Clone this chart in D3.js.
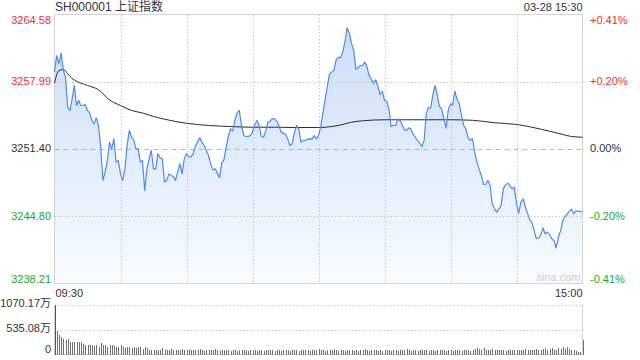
<!DOCTYPE html>
<html>
<head>
<meta charset="utf-8">
<script src="https://cdn.jsdelivr.net/npm/d3@7/dist/d3.min.js"></script>
<style>
  html, body { margin: 0; padding: 0; background: #fff; }
  svg { display: block; font-family: Arial, "Liberation Sans", "Noto Sans CJK SC", sans-serif; }
</style>
</head>
<body>
<svg id="chart" width="640" height="360"></svg>
<script>
// Chart values
const title = 'SH000001 上证指数';
const stamp = '03-28 15:30';
const prevClose = 3251.40;
const priceTicks = [3238.21, 3244.80, 3251.40, 3257.99, 3264.58];
const timeLabels = ['09:30', '15:00'];
const volTicks = [0, 535.08, 1070.17];
const volTickLabels = ['0', '535.08万', '1070.17万'];

// one price per minute, 09:30-11:30 then 13:00-15:00 (241 points)
const prices = [
  3258.93, 3260.56, 3259.74, 3260.79, 3259.09, 3258.44, 3255.50, 3255.17, 3256.31, 3257.62,
  3255.66, 3256.15, 3255.66, 3255.66, 3255.76, 3255.17, 3254.91, 3254.19, 3253.86, 3254.45,
  3253.70, 3251.58, 3248.31, 3249.13, 3250.27, 3252.07, 3251.41, 3252.39, 3250.11, 3250.27,
  3248.96, 3248.31, 3249.45, 3251.74, 3253.21, 3252.56, 3252.29, 3251.41, 3251.41, 3250.11,
  3250.27, 3247.33, 3249.45, 3250.43, 3251.25, 3249.45, 3249.45, 3250.92, 3250.53, 3250.43,
  3248.15, 3248.31, 3248.96, 3248.80, 3248.70, 3248.31, 3249.13, 3249.94, 3248.96, 3250.43,
  3250.92, 3250.66, 3250.60, 3250.92, 3251.64, 3252.07, 3252.49, 3252.07, 3251.74, 3251.31,
  3250.76, 3249.94, 3249.35, 3249.45, 3249.03, 3248.57, 3250.01, 3250.33, 3251.51, 3252.62,
  3253.37, 3253.14, 3254.19, 3254.91, 3255.17, 3253.70, 3252.72, 3252.62, 3252.62, 3252.72,
  3253.05, 3253.80, 3254.19, 3253.70, 3252.62, 3252.56, 3253.14, 3254.03, 3254.12, 3254.35,
  3254.35, 3254.12, 3253.70, 3253.05, 3252.95, 3252.82, 3252.39, 3251.74, 3251.90, 3252.95,
  3253.70, 3253.37, 3252.07, 3252.23, 3252.23, 3252.36, 3252.39, 3252.36, 3252.72, 3252.39,
  3252.72, 3253.54, 3254.91, 3256.21, 3257.52, 3258.76, 3258.93, 3259.09, 3260.14, 3260.40,
  3260.33, 3260.89, 3261.87, 3263.27, 3262.75, 3261.77, 3261.05, 3259.25, 3259.35, 3259.58,
  3259.58, 3259.91, 3259.48, 3258.60, 3258.24, 3257.85, 3258.18, 3257.52, 3256.74, 3257.06,
  3256.15, 3256.08, 3255.33, 3253.60, 3253.70, 3253.70, 3254.35, 3254.19, 3253.80, 3253.27,
  3253.21, 3253.47, 3253.37, 3252.82, 3252.56, 3252.23, 3251.97, 3251.64, 3252.23, 3254.91,
  3255.43, 3255.43, 3256.74, 3257.62, 3256.64, 3255.56, 3255.33, 3254.35, 3253.47, 3255.23,
  3255.82, 3255.72, 3257.06, 3256.22, 3255.82, 3254.68, 3253.70, 3253.37, 3252.49, 3252.23,
  3252.39, 3251.09, 3250.11, 3249.45, 3248.80, 3247.92, 3247.92, 3248.31, 3247.82, 3246.02,
  3245.53, 3245.21, 3245.50, 3245.86, 3247.49, 3247.88, 3248.05, 3247.82, 3247.49, 3247.66,
  3246.02, 3245.11, 3246.19, 3246.51, 3245.76, 3245.11, 3244.45, 3244.22, 3243.41, 3242.59,
  3242.69, 3242.92, 3243.67, 3243.08, 3243.25, 3243.02, 3242.59, 3242.43, 3241.71, 3242.69,
  3243.34, 3244.32, 3244.78, 3244.98, 3245.30, 3245.50, 3245.04, 3245.30, 3245.30, 3245.27,
  3245.21
];

// average price line, sampled at these minute indexes
const avgMinutes = [0, 2, 4, 6, 8, 10, 15, 20, 25, 30, 35, 40, 45, 50, 55, 60, 70, 80, 90, 100,
  110, 120, 125, 130, 135, 140, 150, 160, 170, 180, 190, 200, 210, 217, 225, 231, 235, 240];
const avgPrices = [3257.85, 3259.09, 3259.19, 3258.77, 3258.31, 3258.04, 3257.62, 3257.20, 3256.20, 3255.66,
  3255.17, 3254.93, 3254.58, 3254.32, 3254.09, 3253.92, 3253.70, 3253.60, 3253.53, 3253.53,
  3253.50, 3253.50, 3253.57, 3253.75, 3254.02, 3254.16, 3254.26, 3254.26, 3254.26, 3254.26,
  3254.21, 3253.97, 3253.80, 3253.53, 3253.14, 3252.82, 3252.62, 3252.55];

// volume per minute, in 万
const volumes = [
  1070, 500, 407, 371, 335, 300, 335, 278, 264, 264,
  278, 278, 264, 228, 214, 214, 193, 193, 178, 214,
  171, 243, 214, 193, 157, 214, 193, 178, 157, 171,
  214, 157, 143, 171, 157, 136, 157, 136, 171, 157,
  121, 171, 136, 107, 107, 100, 100, 100, 93, 136,
  93, 100, 100, 121, 86, 107, 100, 93, 121, 100,
  86, 107, 100, 93, 86, 107, 114, 93, 79, 100,
  93, 86, 100, 121, 86, 79, 93, 100, 86, 107,
  79, 86, 93, 79, 86, 93, 107, 86, 79, 93,
  86, 100, 79, 86, 93, 79, 86, 100, 107, 86,
  79, 93, 86, 79, 100, 86, 93, 79, 86, 93,
  100, 79, 86, 93, 107, 86, 79, 86, 93, 100,
  121, 86, 100, 79, 93, 107, 86, 121, 100, 79,
  93, 86, 79, 100, 86, 93, 79, 86, 79, 93,
  107, 121, 86, 79, 86, 100, 86, 79, 86, 79,
  93, 100, 86, 79, 93, 100, 79, 86, 93, 100,
  121, 86, 79, 86, 93, 79, 86, 100, 86, 93,
  79, 86, 93, 79, 86, 100, 107, 86, 79, 93,
  86, 79, 93, 100, 86, 79, 93, 100, 86, 79,
  107, 121, 143, 114, 100, 136, 107, 93, 86, 121,
  100, 86, 93, 107, 86, 79, 93, 100, 86, 93,
  100, 86, 93, 107, 114, 86, 100, 93, 107, 121,
  100, 93, 121, 143, 100, 114, 136, 93, 107, 143,
  121, 150, 114, 157, 128, 93, 86, 71, 64, 57,
  315
];

const svg = d3.select('#chart');
const plot = { left: 54.5, right: 582.5, top: 14.5, bottom: 283.5 };
const vol = { top: 304.5, bottom: 354.5 };
const red = '#f23030', green = '#22a822', dark = '#333';

const x = d3.scaleLinear().domain([0, 240]).range([plot.left, plot.right]);
const y = d3.scaleLinear().domain([priceTicks[0], priceTicks[4]]).range([plot.bottom, plot.top]);
const yv = d3.scaleLinear().domain([0, volTicks[2]]).range([vol.bottom, vol.top]);

const defs = svg.append('defs');
const grad = defs.append('linearGradient').attr('id', 'fill')
  .attr('gradientUnits', 'userSpaceOnUse')
  .attr('x1', 0).attr('x2', 0).attr('y1', plot.top).attr('y2', plot.bottom);
grad.append('stop').attr('offset', 0).attr('stop-color', '#c9dcf7');
grad.append('stop').attr('offset', 1).attr('stop-color', '#f9fbff');

// title row
svg.append('text').attr('x', 55).attr('y', 11).attr('font-size', 12).attr('fill', dark).text(title);
svg.append('text').attr('x', plot.right).attr('y', 11).attr('font-size', 11)
  .attr('text-anchor', 'end').attr('fill', dark).text(stamp);

// area + grid
svg.append('path')
  .datum(prices)
  .attr('fill', 'url(#fill)')
  .attr('d', d3.area().x((d, i) => x(i)).y0(plot.bottom).y1(d => y(d)));

const grid = svg.append('g').attr('stroke', '#c8c8c8').attr('stroke-dasharray', '1.5,2');
d3.range(30, 240, 30).forEach(m => {
  grid.append('line').attr('x1', Math.round(x(m)) + 0.5).attr('x2', Math.round(x(m)) + 0.5)
    .attr('y1', plot.top).attr('y2', plot.bottom);
});
[priceTicks[1], priceTicks[3]].forEach(v => {
  grid.append('line').attr('x1', plot.left).attr('x2', plot.right)
    .attr('y1', Math.round(y(v)) + 0.5).attr('y2', Math.round(y(v)) + 0.5);
});
svg.append('line').attr('x1', plot.left).attr('x2', plot.right)
  .attr('y1', Math.round(y(prevClose)) + 0.5).attr('y2', Math.round(y(prevClose)) + 0.5)
  .attr('stroke', '#f0a577').attr('stroke-dasharray', '5,4');

svg.append('rect').attr('x', plot.left).attr('y', plot.top)
  .attr('width', plot.right - plot.left).attr('height', plot.bottom - plot.top)
  .attr('fill', 'none').attr('stroke', '#d4d4d4');

svg.append('text').attr('x', plot.right - 2).attr('y', plot.bottom - 3)
  .attr('text-anchor', 'end').attr('font-size', 11).attr('fill', '#d0d0d0').text('sina.com');

// average line and price line
svg.append('path')
  .attr('fill', 'none').attr('stroke', '#2b2b2b').attr('stroke-width', 1)
  .attr('d', d3.line().curve(d3.curveMonotoneX)
    .x((d, i) => x(avgMinutes[i])).y(d => y(d))(avgPrices));

svg.append('path')
  .datum(prices)
  .attr('fill', 'none').attr('stroke', '#4d8af0').attr('stroke-width', 1.2)
  .attr('stroke-linejoin', 'round')
  .attr('d', d3.line().x((d, i) => x(i)).y(d => y(d)));

// price axis labels
const colorFor = v => Math.abs(v - prevClose) < 0.005 ? dark : (v > prevClose ? red : green);
const baseFor = (i) => i === 4 ? 'hanging' : (i === 0 ? 'auto' : 'middle');
priceTicks.forEach((v, i) => {
  const ty = i === 4 ? plot.top + 1 : (i === 0 ? plot.bottom - 1 : y(v) + 0.5);
  svg.append('text').attr('x', 51).attr('y', ty).attr('text-anchor', 'end')
    .attr('dominant-baseline', baseFor(i)).attr('font-size', 11)
    .attr('fill', colorFor(v)).text(v.toFixed(2));
  const pct = (v - prevClose) / prevClose * 100;
  const label = (pct > 0.005 ? '+' : '') + pct.toFixed(2) + '%';
  svg.append('text').attr('x', 590).attr('y', ty)
    .attr('dominant-baseline', baseFor(i)).attr('font-size', 11)
    .attr('fill', colorFor(v)).text(label);
});

// time labels
svg.append('text').attr('x', plot.left + 1).attr('y', 297).attr('font-size', 11).attr('fill', dark).text(timeLabels[0]);
svg.append('text').attr('x', plot.right).attr('y', 297).attr('font-size', 11)
  .attr('text-anchor', 'end').attr('fill', dark).text(timeLabels[1]);

// volume panel
const vgrid = svg.append('g').attr('stroke', '#c8c8c8').attr('stroke-dasharray', '1.5,2');
[volTicks[1], volTicks[2]].forEach(v => {
  vgrid.append('line').attr('x1', plot.left).attr('x2', plot.right)
    .attr('y1', Math.round(yv(v)) + 0.5).attr('y2', Math.round(yv(v)) + 0.5);
});
svg.append('path').attr('fill', 'none').attr('stroke', '#d4d4d4')
  .attr('d', `M${plot.left},${vol.top}V${vol.bottom}H${plot.right}V${vol.top}`);

// 1px crisp bars
svg.append('g').attr('shape-rendering', 'crispEdges').selectAll('rect')
  .data(volumes)
  .enter()
  .append('rect')
  .attr('x', (d, i) => Math.round(x(i)))
  .attr('y', d => Math.round(yv(d)))
  .attr('width', 1)
  .attr('height', d => Math.round(vol.bottom) - Math.round(yv(d)))
  .attr('fill', (d, i) => i === 0 ? '#555' : '#6e6e6e');

volTicks.forEach((v, i) => {
  svg.append('text').attr('x', 51).attr('y', i === 0 ? yv(v) - 4 : yv(v))
    .attr('text-anchor', 'end').attr('dominant-baseline', 'middle')
    .attr('font-size', 11).attr('fill', dark).text(volTickLabels[i]);
});
</script>
</body>
</html>
